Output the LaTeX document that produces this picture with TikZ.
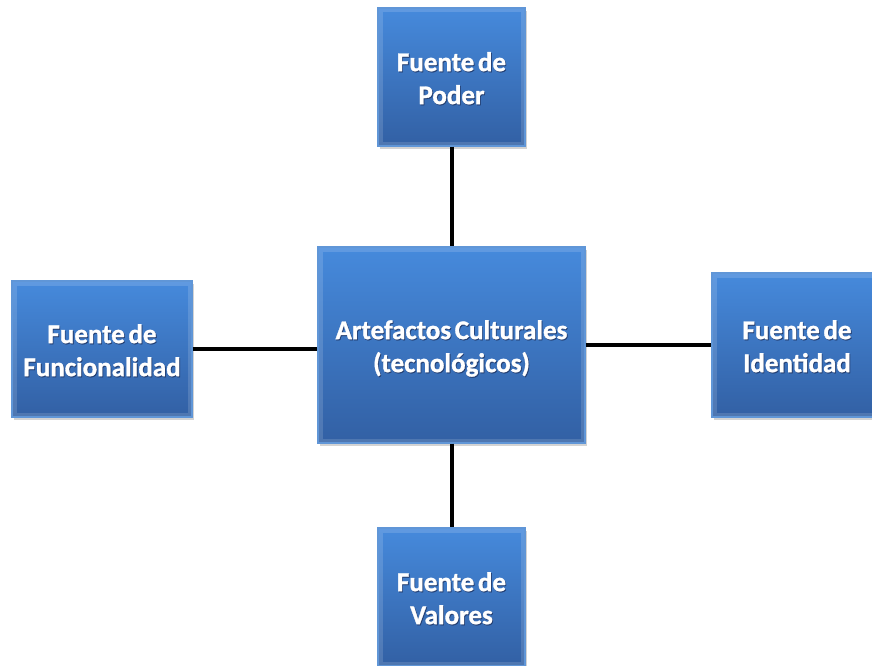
\documentclass[tikz,border=0pt]{standalone}
\usepackage{fontspec}
\setmainfont{Carlito}[FakeBold=1.2, WordSpace=0.6]
\usetikzlibrary{shadows}
\definecolor{boxtop}{RGB}{70,138,220}
\definecolor{boxbot}{RGB}{50,96,164}
\definecolor{boxedge}{RGB}{96,150,215}
\definecolor{txtshade}{RGB}{36,62,112}
% white caption with a soft dark drop behind it, set slightly low in its box
\newcommand\shd[1]{\setbox0\hbox{\begin{tabular}{@{}c@{}}#1\end{tabular}}%
  \raisebox{0pt}[\dimexpr\ht0+8pt\relax][\dp0]{%
  \rlap{\raisebox{-1pt}{\hspace{0.8pt}\color{txtshade}\copy0}}\copy0}}
\begin{document}
\begin{tikzpicture}[x=1pt,y=-1pt,
  blk/.style={rectangle, draw=boxedge, line width=1.2pt,
    top color=boxtop, bottom color=boxbot,
    drop shadow={shadow xshift=2pt,shadow yshift=-3pt,opacity=0.35},
    path picture={\draw[white, opacity=.14, line width=9pt]
      (path picture bounding box.south west) rectangle
      (path picture bounding box.north east);},
    font=\bfseries\fontsize{27}{33}\selectfont, text=white,
    inner sep=0pt},
  link/.style={line width=4pt, black}]
\useasboundingbox (0,0) rectangle (872,666);
\node[blk, minimum width=267pt, minimum height=196pt] (core) at (451.5,345)
  {\shd{Artefactos Culturales\\(tecnológicos)}};
\node[blk, minimum width=147pt, minimum height=138pt] (poder) at (451.5,77)
  {\shd{Fuente de\\Poder}};
\node[blk, minimum width=147pt, minimum height=138pt] (valores) at (451.5,597)
  {\shd{Fuente de\\Valores}};
\node[blk, minimum width=180pt, minimum height=136pt] (func) at (102,349)
  {\shd{Fuente de\\Funcionalidad}};
\node[blk, minimum width=170pt, minimum height=144pt] (ident) at (797,345)
  {\shd{Fuente de\\Identidad}};
\draw[link] (poder.south) -- (core.north);
\draw[link] (core.south) -- (valores.north);
\draw[link] (func.east) -- (core.west |- func.east);
\draw[link] (core.east |- ident.west) -- (ident.west);
\end{tikzpicture}
\end{document}
